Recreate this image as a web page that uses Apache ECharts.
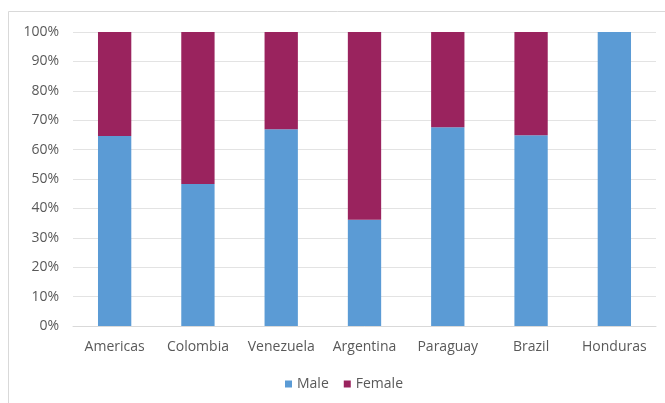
<!DOCTYPE html>
<html>
<head>
<meta charset="utf-8">
<script src="https://cdn.jsdelivr.net/npm/echarts@6/dist/echarts.min.js"></script>
<style>
  html, body { margin: 0; padding: 0; background: #fff; }
  #chart { width: 665px; height: 403px; }
</style>
</head>
<body>
<div id="chart"></div>
<script>
// Share of male and female by country (percent of total)
const categories = ['Americas', 'Colombia', 'Venezuela', 'Argentina', 'Paraguay', 'Brazil', 'Honduras'];
const maleShare = [64.6, 48.3, 66.9, 36.1, 67.6, 64.9, 100];
const femaleShare = [35.4, 51.7, 33.1, 63.9, 32.4, 35.1, 0];
const yTicks = [0, 10, 20, 30, 40, 50, 60, 70, 80, 90, 100];

const textColor = '#595959';
const fontFamily = '"Open Sans", sans-serif';

const chart = echarts.init(document.getElementById('chart'), null, { renderer: 'canvas' });
chart.setOption({
  animation: false,
  backgroundColor: '#fff',
  graphic: [{
    type: 'rect',
    shape: { x: 8.5, y: 11.5, width: 700, height: 420 },
    style: { fill: 'none', stroke: '#d9d9d9', lineWidth: 1 },
    silent: true
  }],
  grid: { left: 73, right: 9, top: 32, bottom: 77, containLabel: false },
  legend: {
    data: ['Male', 'Female'],
    bottom: 7,
    left: 280,
    itemWidth: 7,
    itemHeight: 7,
    itemGap: 15,
    icon: 'rect',
    textStyle: { color: textColor, fontSize: 14, fontFamily: fontFamily, padding: [0, 0, 0, 0] }
  },
  xAxis: {
    type: 'category',
    data: categories,
    axisLine: { lineStyle: { color: '#d9d9d9' } },
    axisTick: { show: false },
    axisLabel: { color: textColor, fontSize: 14, fontFamily: fontFamily, margin: 14, interval: 0, hideOverlap: false }
  },
  yAxis: {
    type: 'value',
    min: yTicks[0],
    max: yTicks[yTicks.length - 1],
    interval: 10,
    axisLine: { show: false },
    axisTick: { show: false },
    splitLine: { lineStyle: { color: '#e3e3e3' } },
    axisLabel: { color: textColor, fontSize: 14, fontFamily: fontFamily, margin: 14, formatter: '{value}%' }
  },
  series: [
    {
      name: 'Male',
      type: 'bar',
      stack: 'total',
      data: maleShare,
      barWidth: '40%',
      itemStyle: { color: '#5B9BD5' }
    },
    {
      name: 'Female',
      type: 'bar',
      stack: 'total',
      data: femaleShare,
      barWidth: '40%',
      itemStyle: { color: '#9A235E' }
    }
  ]
});
</script>
</body>
</html>
